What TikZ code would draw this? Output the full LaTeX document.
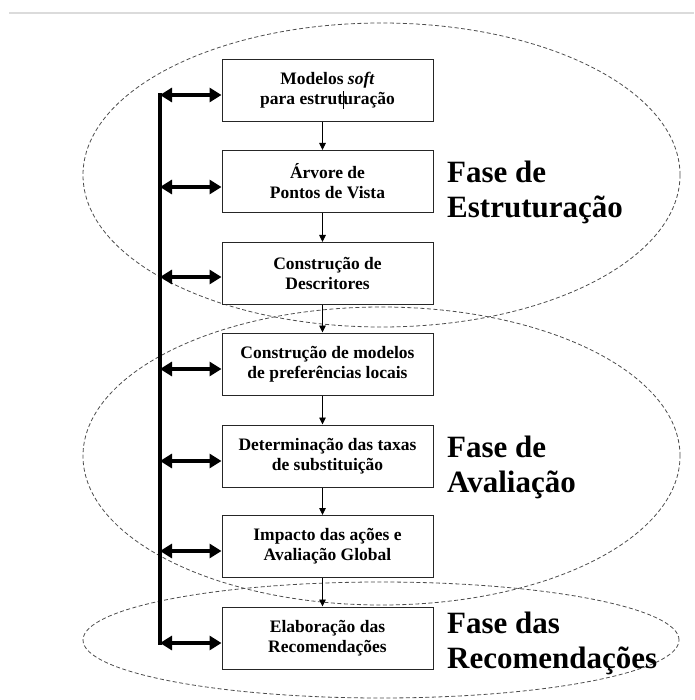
\documentclass[tikz,border=0pt]{standalone}
\usepackage{fontspec}
\setmainfont{Liberation Serif}
\usetikzlibrary{arrows.meta,shapes.geometric}
\begin{document}
\begin{tikzpicture}[x=1pt,y=-1pt,
  phase/.style={ellipse, draw=black!70, dash pattern=on 4pt off 2.5pt, line width=0.8pt, inner sep=0pt},
  stepbox/.style={draw=black!85, fill=white, line width=1pt, minimum width=211pt, minimum height=62pt,
    inner sep=0pt, align=center, font=\bfseries\fontsize{17.5}{20}\selectfont},
  flow/.style={-{Triangle[length=7pt,width=6.5pt]}, line width=0.9pt},
  link/.style={{Triangle[length=12pt,width=14pt]}-{Triangle[length=12pt,width=14pt]}, line width=4pt},
  bar/.style={line width=3.5pt},
  phaselabel/.style={align=left, font=\bfseries\fontsize{31}{35}\selectfont, inner sep=0pt, anchor=base west},
  topline/.style={draw=black!14, line width=1.5pt}]
\useasboundingbox (0,0) rectangle (694,700);
\draw[topline] (9,13) -- (694,13);
% phases
\node[phase, minimum width=597pt, minimum height=304pt] (e1) at (381.5,175) {};
\node[phase, minimum width=597pt, minimum height=298pt] (e2) at (381.5,456) {};
\node[phase, minimum width=596pt, minimum height=116pt] (e3) at (381,640) {};
% steps
\node[stepbox] (b1) at (327.5,90.5) {Modelos \textit{soft}\\para estrut\makebox[0pt]{\rule[-4pt]{0.6pt}{18pt}}uração};
\node[stepbox] (b2) at (327.5,181.5) {Árvore de\\Pontos de Vista};
\node[stepbox] (b3) at (327.5,273.5) {Construção de\\Descritores};
\node[stepbox] (b4) at (327.5,364) {Construção de modelos\\de preferências locais};
\node[stepbox] (b5) at (327.5,456) {Determinação das taxas\\de substituição};
\node[stepbox] (b6) at (327.5,546.5) {Impacto das ações e\\Avaliação Global};
\node[stepbox] (b7) at (327.5,638) {Elaboração das\\Recomendações};
% flow arrows
\foreach \a/\b in {b1/b2,b2/b3,b3/b4,b4/b5,b5/b6,b6/b7}
  \draw[flow] ([xshift=-5pt]\a.south) -- ([xshift=-5pt]\b.north);
% feedback bar
\coordinate (l1) at (160,95);
\coordinate (l2) at (160,187);
\coordinate (l3) at (160,277);
\coordinate (l4) at (160,369);
\coordinate (l5) at (160,461);
\coordinate (l6) at (160,551);
\coordinate (l7) at (160,643);
\draw[bar] ([yshift=1.75pt]l1) -- ([yshift=-1.75pt]l7);
\foreach \i in {1,...,7}
  \draw[link] (l\i) -- (l\i -| b\i.west);
% labels
\node[phaselabel] (t1) at (447,218) {Fase de\\Estruturação};
\node[phaselabel] (t2) at (447,492) {Fase de\\Avaliação};
\node[phaselabel] (t3) at (447,668) {Fase das\\Recomendações};
\end{tikzpicture}
\end{document}
